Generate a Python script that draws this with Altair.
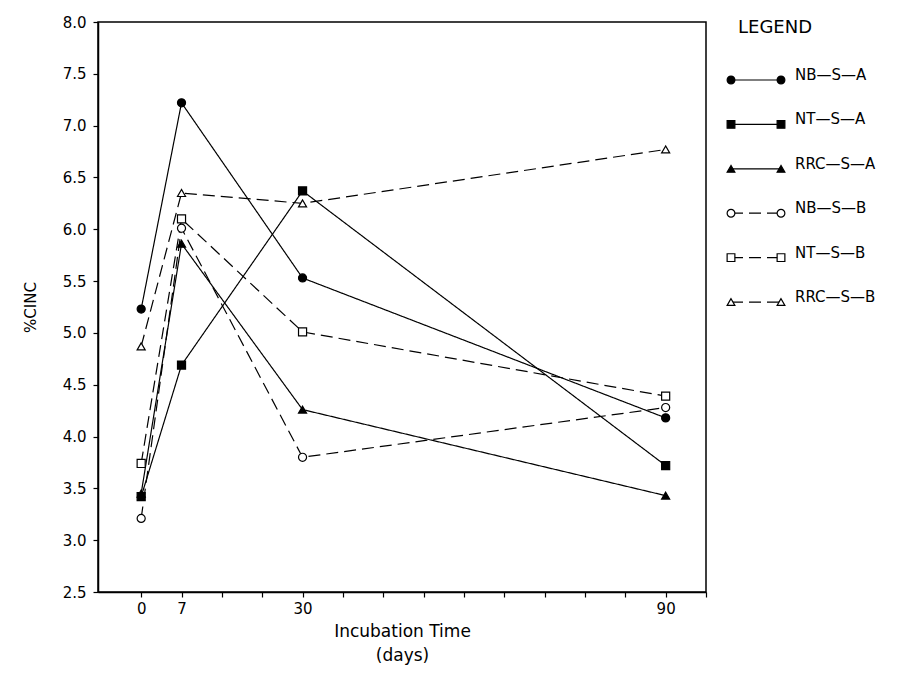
import altair as alt
import pandas as pd

# ---- data ----
series = ["NB—S—A", "NT—S—A", "RRC—S—A", "NB—S—B", "NT—S—B", "RRC—S—B"]
sample_weeks = [0, 1, 4, 13]          # sampling times on the plot's weekly axis
day_labels = ["0", "7", "30", "90"]   # labels printed under them (days)

nb_s_a = [5.23, 7.22, 5.53, 4.18]
nt_s_a = [3.42, 4.69, 6.37, 3.72]
rrc_s_a = [3.45, 5.86, 4.26, 3.43]
nb_s_b = [3.21, 6.01, 3.80, 4.28]
nt_s_b = [3.74, 6.10, 5.01, 4.39]
rrc_s_b = [4.87, 6.35, 6.25, 6.77]

y_ticks = [2.5, 3.0, 3.5, 4.0, 4.5, 5.0, 5.5, 6.0, 6.5, 7.0, 7.5, 8.0]
x_ticks = list(range(0, 15))

shapes = ["circle", "square", "triangle-up", "circle", "square", "triangle-up"]
fills = ["black", "black", "black", "white", "white", "white"]
dashes = [[1, 0], [1, 0], [1, 0], [12, 6], [12, 6], [12, 6]]

FONT = "DejaVu Sans"

rows = []
for name, vals in zip(series, [nb_s_a, nt_s_a, rrc_s_a, nb_s_b, nt_s_b, rrc_s_b]):
    for w, v in zip(sample_weeks, vals):
        rows.append({"series": name, "week": w, "cinc": v})
df = pd.DataFrame(rows)

label_map = dict(zip(sample_weeks, day_labels))
label_expr = " : ".join(
    [f"datum.value == {w} ? '{d}'" for w, d in label_map.items()]
) + " : ''"

x_enc = alt.X(
    "week:Q",
    scale=alt.Scale(domain=[-1.07, 14], nice=False, zero=False),
    axis=alt.Axis(
        values=x_ticks, labelExpr=label_expr,
        title=["Incubation Time", "(days)"],
        titleFont=FONT, titleFontSize=17, titleFontWeight="normal",
        titleColor="black", titlePadding=7, titleLineHeight=24,
        labelFont=FONT, labelFontSize=15, labelColor="black",
        labelPadding=4, tickSize=5, tickColor="black", tickWidth=1.2,
        domainColor="black", domainWidth=1.5, grid=False,
        labelOverlap=False,
    ),
)
y_enc = alt.Y(
    "cinc:Q",
    scale=alt.Scale(domain=[2.5, 8.0], nice=False, zero=False),
    axis=alt.Axis(
        values=y_ticks, format=".1f", title="%CINC",
        titleFont=FONT, titleFontSize=15, titleFontWeight="normal",
        titleColor="black", titlePadding=24,
        labelFont=FONT, labelFontSize=15, labelColor="black",
        labelPadding=7, tickSize=5, tickColor="black", tickWidth=1.2,
        domainColor="black", domainWidth=1.5, grid=False,
    ),
)

dash_scale = alt.Scale(domain=series, range=dashes)
shape_scale = alt.Scale(domain=series, range=shapes)
fill_scale = alt.Scale(domain=series, range=fills)

lines = alt.Chart(df).mark_line(color="black", strokeWidth=1.2).encode(
    x=x_enc, y=y_enc,
    detail="series:N",
    strokeDash=alt.StrokeDash("series:N", scale=dash_scale, legend=None),
)
points = alt.Chart(df).mark_point(
    filled=True, stroke="black", strokeWidth=1.2, size=65, opacity=1
).encode(
    x="week:Q", y="cinc:Q",
    shape=alt.Shape("series:N", scale=shape_scale, legend=None),
    fill=alt.Fill("series:N", scale=fill_scale, legend=None),
)

main = alt.layer(lines, points).properties(
    width=608, height=570,
    view=alt.ViewBackground(stroke="black", strokeWidth=1.5),
)

# ---- legend panel, drawn from the same series lists ----
leg_rows = []
for i, name in enumerate(series):
    for end in [0, 1]:
        leg_rows.append({"series": name, "row": i, "end": end})
leg_df = pd.DataFrame(leg_rows)
leg_lab = pd.DataFrame({"series": series, "row": list(range(len(series))), "end": 1})
leg_head = pd.DataFrame({"txt": ["LEGEND"], "row": [-1], "end": [0]})

lx = alt.X("end:Q", scale=alt.Scale(domain=[0, 1]), axis=None)
ly = alt.Y("row:Q", scale=alt.Scale(domain=[-1.306, 11.53], reverse=True, nice=False, zero=False), axis=None)

leg_lines = alt.Chart(leg_df).mark_line(color="black", strokeWidth=1.2).encode(
    x=lx, y=ly, detail="series:N",
    strokeDash=alt.StrokeDash("series:N", scale=alt.Scale(domain=series, range=[[1, 0]] * 3 + [[20, 10]] * 3), legend=None),
)
leg_pts = alt.Chart(leg_df).mark_point(
    filled=True, stroke="black", strokeWidth=1.2, size=60, opacity=1
).encode(
    x="end:Q", y="row:Q",
    shape=alt.Shape("series:N", scale=shape_scale, legend=None),
    fill=alt.Fill("series:N", scale=fill_scale, legend=None),
)
leg_text = alt.Chart(leg_lab).mark_text(
    align="left", baseline="middle", dx=14, dy=-5, font=FONT, fontSize=15, color="black"
).encode(x="end:Q", y="row:Q", text="series:N")
leg_title = alt.Chart(leg_head).mark_text(
    align="left", baseline="middle", dx=7, dy=-8, font=FONT, fontSize=18, color="black"
).encode(x="end:Q", y="row:Q", text="txt:N")

legend_panel = alt.layer(leg_lines, leg_pts, leg_text, leg_title).properties(
    width=50, height=570,
    view=alt.ViewBackground(strokeWidth=0, stroke="transparent"),
)

chart = alt.hconcat(main, legend_panel, spacing=16).properties(
    padding={"left": 22, "top": 14, "right": 5, "bottom": 5},
    background="white",
)

chart.save("out.html", embed_options={"renderer": "svg", "actions": False})
